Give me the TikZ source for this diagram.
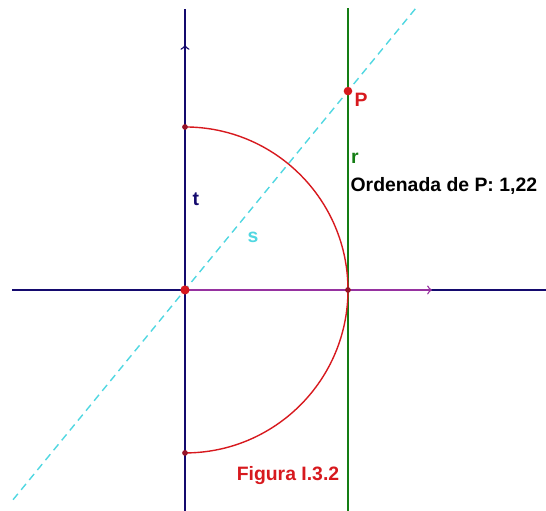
\documentclass[tikz,border=0pt]{standalone}
\usepackage{fontspec}
\setmainfont{Liberation Sans}
\usetikzlibrary{calc}
\usetikzlibrary{positioning}

\definecolor{asse}{RGB}{20,10,110}
\definecolor{rosso}{RGB}{215,25,30}
\definecolor{scuro}{RGB}{150,20,40}
\definecolor{verde}{RGB}{20,125,20}
\definecolor{ciano}{RGB}{80,215,225}
\definecolor{viola}{RGB}{150,50,160}

\tikzset{
  etichetta/.style={font=\fontsize{9.7}{11}\selectfont\bfseries, inner sep=0pt},
  punto/.style={fill=scuro},
}

\begin{document}
\begin{tikzpicture}[scale=2.865, line width=0.7pt]
        \useasboundingbox (-1.135,-1.356) rectangle (2.215,1.779);

        % assi e retta r
        \draw[asse] (-1.061,0)--(2.215,0);
        \draw[asse] (0,-1.356)--(0,1.724);
        \draw[verde] (1,-1.356)--(1,1.73);

        % retta s per O e P
        \coordinate (O) at (0,0);
        \coordinate (P) at (1,1.22);
        \draw[ciano,dash pattern=on 3.8pt off 2.6pt] (-1.055,-1.287)--(1.42,1.733);

        % semicirconferenza
        \draw[rosso] (0,1) arc (90:-90:1);

        % vettori
        \draw[viola,->] (O)--(1.515,0);
        \draw[asse,->] (O)--(0,1.503);

        \fill[punto] (0,1) circle (0.5pt);
        \fill[punto] (0,-1) circle (0.5pt);
        \fill[punto] (1,0) circle (0.5pt);
        \fill[rosso] (O) circle (0.8pt);
        \fill[rosso] (P) circle (0.75pt);

        \node[etichetta,rosso] (lP) at (1.08,1.166) {P};
        \node[etichetta,verde] (lr) at (1.043,0.81) {r};
        \node[etichetta,anchor=west] (ord) at (1.012,0.638) {Ordenada de P: 1,22};
        \node[etichetta,asse] (lt) at (0.067,0.558) {t};
        \node[etichetta,ciano] (ls) at (0.417,0.325) {s};
        \node[etichetta,rosso] (fig) at (0.632,-1.141) {Figura I.3.2};
    \end{tikzpicture}
\end{document}
